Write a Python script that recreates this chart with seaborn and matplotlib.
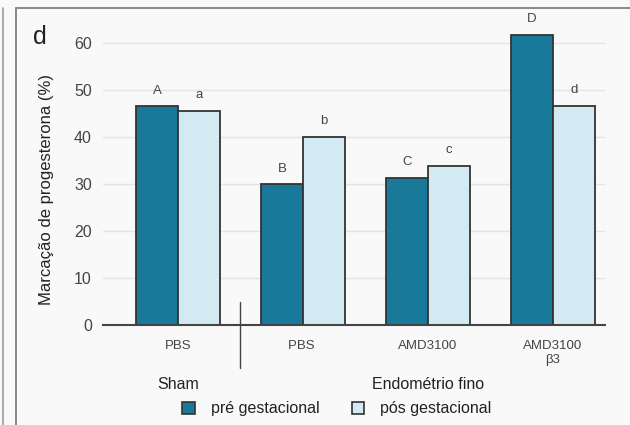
import matplotlib
matplotlib.use("Agg")
import matplotlib.pyplot as plt
import seaborn as sns
import pandas as pd
from matplotlib.patches import Patch
from matplotlib.lines import Line2D

sns.set_theme(style="white")
plt.rcParams['font.family'] = ['Liberation Sans', 'DejaVu Sans']

categories = ["PBS", "PBS ", "AMD3100", "AMD3100\nβ3"]
series_names = ["pré gestacional", "pós gestacional"]
pre_values = [46.5, 29.9, 31.3, 61.8]
pos_values = [45.5, 40.0, 33.8, 46.7]
pre_letters = ["A", "B", "C", "D"]
pos_letters = ["a", "b", "c", "d"]
group_labels = ["Sham", "Endométrio fino"]
y_ticks = [0, 10, 20, 30, 40, 50, 60]

colors = {"pré gestacional": "#18799a", "pós gestacional": "#d3eaf3"}
bg = "#f9f9f9"

df = pd.DataFrame({
    "cat": categories * 2,
    "serie": [series_names[0]] * 4 + [series_names[1]] * 4,
    "val": pre_values + pos_values,
})

fig = plt.figure(figsize=(6.3, 4.25), dpi=100, facecolor=bg)
ax = fig.add_axes([0.1635, 0.2353, 0.7965, 0.7188])
ax.set_facecolor(bg)

sns.barplot(data=df, x="cat", y="val", hue="serie", order=categories,
            hue_order=series_names, palette=colors, saturation=1, width=0.672, gap=0,
            edgecolor="#333333", linewidth=1.3, ax=ax, legend=False, zorder=3)

ax.set_xlim(-0.6, 3.416)
ax.set_ylim(0, 65)
ax.set_yticks(y_ticks)
ax.yaxis.grid(True, color="#e4e4e4", linewidth=1.0, zorder=0)
ax.set_axisbelow(True)
for s in ["top", "right", "left"]:
    ax.spines[s].set_visible(False)
ax.spines["bottom"].set_color("#444444")
ax.spines["bottom"].set_linewidth(1.5)
ax.spines["bottom"].set_zorder(4)
ax.tick_params(axis="y", length=0, pad=8, labelsize=11.5, labelcolor="#444444")
ax.tick_params(axis="x", length=0, pad=11, labelsize=9.5, labelcolor="#444444")
ax.set_xlabel("")
ax.set_ylabel("Marcação de progesterona (%)", fontsize=12, color="#222222", labelpad=10)
ax.yaxis.set_label_coords(-0.098, 0.442)

# letters above bars
bars_pre = ax.containers[0]
bars_pos = ax.containers[1]
for bars, letters in [(bars_pre, pre_letters), (bars_pos, pos_letters)]:
    for b, l in zip(bars, letters):
        ax.annotate(l, (b.get_x() + b.get_width() / 2, b.get_height()),
                    xytext=(0, 7), textcoords="offset points", ha="center",
                    va="bottom", fontsize=9.5, color="#444444", annotation_clip=False)

# separator between groups
ax.plot([0.5, 0.5], [4.9, -9.2], color="#444444", linewidth=1.0, clip_on=False)

# group labels
ax.annotate(group_labels[0], (0, -0.196), xycoords=("data", "axes fraction"),
            ha="center", va="center", fontsize=11.5, color="#222222", annotation_clip=False)
ax.annotate(group_labels[1], (2, -0.196), xycoords=("data", "axes fraction"),
            ha="center", va="center", fontsize=11.5, color="#222222", annotation_clip=False)

# panel letter
fig.text(0.052, 0.912, "d", fontsize=18, color="#222222", ha="left", va="center")

# panel frame lines
fig.add_artist(Line2D([0.026, 0.026], [0.0, 0.981], color="#888888", linewidth=1.4))
fig.add_artist(Line2D([0.026, 1.0], [0.981, 0.981], color="#888888", linewidth=1.4))
fig.add_artist(Line2D([0.004, 0.004], [0.0, 0.981], color="#999999", linewidth=1.2))

handles = [Patch(facecolor=colors[n], edgecolor="#333333", linewidth=1.2) for n in series_names]
fig.legend(handles, series_names, loc="center", bbox_to_anchor=(0.535, 0.038), ncol=2,
           frameon=False, fontsize=11.5, handlelength=0.8, handleheight=0.8,
           columnspacing=2.0, handletextpad=1.0, labelcolor="#222222")

fig.savefig("out.png", dpi=100, facecolor=bg)
